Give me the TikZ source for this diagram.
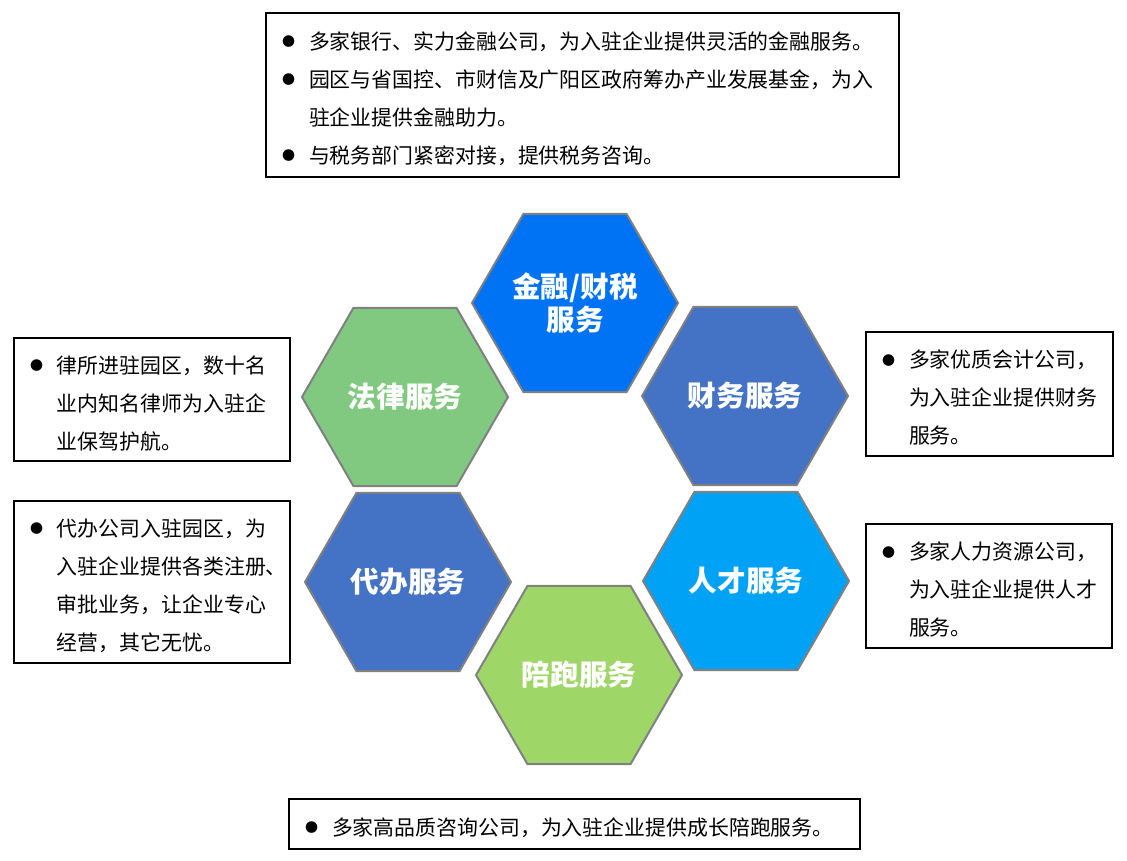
\documentclass[tikz,border=0pt]{standalone}
\usepackage{fontspec}
\setmainfont{Noto Sans CJK SC}
\usetikzlibrary{shapes.geometric}
\definecolor{finblue}{RGB}{0,115,245}
\definecolor{midblue}{RGB}{68,114,196}
\definecolor{skyblue}{RGB}{0,162,245}
\definecolor{lawgreen}{RGB}{129,201,128}
\definecolor{leafgreen}{RGB}{158,214,104}
\definecolor{hexline}{RGB}{128,128,128}
\hfuzz=40pt
\newcommand{\bul}{\rule{0pt}{25pt}\makebox[27pt][l]{\raisebox{2.5pt}{\fontsize{13}{13}\selectfont ●}}}
\newcommand{\ind}{\hspace*{27pt}}
\begin{document}
\begin{tikzpicture}[x=1pt, y=-1pt,
    every node/.style={font=\fontsize{20.9}{38}\selectfont},
    hexcell/.style={regular polygon, regular polygon sides=6, minimum size=206pt,
      draw=hexline, line width=2pt, inner sep=0pt, text=white, align=center,
      font=\bfseries\fontsize{28.6}{33}\selectfont},
    infobox/.style={draw=black, line width=1.2pt, align=left, inner xsep=16pt,
      inner ysep=0pt}]
  \useasboundingbox (0,0) rectangle (1127,860);
  % hexagons
  \node[hexcell, fill=finblue] (finance) at (575,303) {金融/财税\\服务};
  \node[hexcell, fill=lawgreen] (law) at (405,397) {法律服务};
  \node[hexcell, fill=midblue] (account) at (745,396) {财务服务};
  \node[hexcell, fill=midblue] (agency) at (408,582) {代办服务};
  \node[hexcell, fill=skyblue] (talent) at (746,581) {人才服务};
  \node[hexcell, fill=leafgreen] (coach) at (579,675) {陪跑服务};
  % text boxes
  \node[infobox, text width=601pt, minimum height=164pt] (finbox) at (582.5,95)
    {\bul 多家银行、实力金融公司，为入驻企业提供灵活的金融服务。\\
     \bul 园区与省国控、市财信及广阳区政府筹办产业发展基金，为入\\
     \ind 驻企业提供金融助力。\\
     \bul 与税务部门紧密对接，提供税务咨询。};
  \node[infobox, text width=244pt, minimum height=123pt] (lawbox) at (152,399.5)
    {\bul 律所进驻园区，数十名\\
     \ind 业内知名律师为入驻企\\
     \ind 业保驾护航。};
  \node[infobox, text width=244pt, minimum height=162pt] (agencybox) at (152,582)
    {\bul 代办公司入驻园区，为\\
     \ind 入驻企业提供各类注册、\\
     \ind 审批业务，让企业专心\\
     \ind 经营，其它无忧。};
  \node[infobox, text width=215pt, minimum height=124pt] (accountbox) at (989.5,394)
    {\bul 多家优质会计公司，\\
     \ind 为入驻企业提供财务\\
     \ind 服务。};
  \node[infobox, text width=214pt, minimum height=124pt] (talentbox) at (989,586)
    {\bul 多家人力资源公司，\\
     \ind 为入驻企业提供人才\\
     \ind 服务。};
  \node[infobox, text width=539pt, minimum height=50pt] (coachbox) at (574.5,824)
    {\bul 多家高品质咨询公司，为入驻企业提供成长陪跑服务。};
\end{tikzpicture}
\end{document}
